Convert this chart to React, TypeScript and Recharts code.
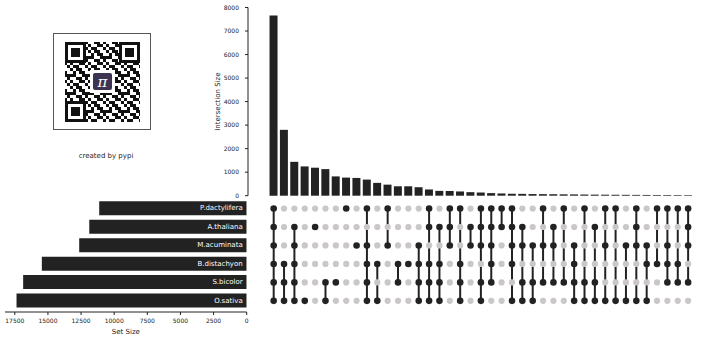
import React from "react";
import {
  BarChart,
  Bar,
  XAxis,
  YAxis,
  ScatterChart,
  Scatter,
  ReferenceLine,
  LabelList,
} from "recharts";

// ---------------------------------------------------------------------------
// Data
// ---------------------------------------------------------------------------

const setNames = ["P.dactylifera", "A.thaliana", "M.acuminata", "B.distachyon", "S.bicolor", "O.sativa"];
const setSizes = [11130, 11880, 12640, 15460, 16870, 17370];

const intersectionSizes = [
  7660, 2800, 1440, 1245, 1190, 1130, 820, 770, 755, 685,
  545, 470, 400, 400, 360, 265, 205, 200, 180, 150,
  135, 110, 95, 82, 78, 70, 66, 62, 58, 55,
  50, 46, 43, 40, 37, 35, 33, 31, 29, 27, 25,
];

// row indices into setNames
const intersectionMembers: number[][] = [
  [0, 1, 2, 3, 4, 5], [3, 4, 5], [1, 2, 3, 4, 5], [5], [1], [4, 5], [4], [0], [2], [0, 2, 3, 4, 5],
  [3, 5], [0, 2], [3, 4], [3], [2, 3, 4, 5], [0, 1, 3, 4, 5], [1, 3, 4, 5], [0, 1, 2], [0, 3, 4, 5], [1, 2],
  [0, 1, 2, 4, 5], [0, 1, 2, 3, 4], [0, 1], [0, 1, 2, 3, 5], [1, 2, 4, 5], [2, 4, 5], [0, 2, 4], [1, 2, 4], [0, 4], [2, 3, 4, 5],
  [0, 4, 5], [1, 4, 5], [0, 2, 5], [0, 5], [2, 5], [0, 1, 2, 5], [2, 3, 5], [0, 3], [0, 2, 3, 4], [0, 3, 4], [0, 1, 2, 4],
];

const intersectionTicks = [0, 1000, 2000, 3000, 4000, 5000, 6000, 7000, 8000];
const setSizeTicks = [0, 2500, 5000, 7500, 10000, 12500, 15000, 17500];

// ---------------------------------------------------------------------------
// Derived tables
// ---------------------------------------------------------------------------

const barData = intersectionSizes.map((size, i) => ({ id: i, size }));
const setData = setNames.map((name, i) => ({ name, size: setSizes[i] }));

const onDots: { col: number; row: number }[] = [];
const offDots: { col: number; row: number }[] = [];
intersectionMembers.forEach((members, col) => {
  setNames.forEach((_, row) => {
    (members.includes(row) ? onDots : offDots).push({ col, row });
  });
});

const FONT = "'DejaVu Sans', sans-serif";
const INK = "#222222";
const OFF = "#cbc7c8";
const W = 720;
const H = 352;

const tickStyle = { fontSize: 6, fill: "#222", fontFamily: FONT };

// ---------------------------------------------------------------------------
// QR badge (decoration)
// ---------------------------------------------------------------------------

const qrTile = ["101100", "010110", "110011", "001101", "100110", "011001"];

function Finder({ x, y }: { x: number; y: number }) {
  return (
    <g>
      <rect x={x} y={y} width={21} height={21} fill="#111" />
      <rect x={x + 3} y={y + 3} width={15} height={15} fill="#fff" />
      <rect x={x + 6} y={y + 6} width={9} height={9} fill="#111" />
    </g>
  );
}

function QrBadge() {
  return (
    <svg width={100} height={140} style={{ position: "absolute", left: 52, top: 32 }}>
      <defs>
        <pattern id="qr" width={18} height={18} patternUnits="userSpaceOnUse">
          {qrTile.map((rowBits, r) =>
            rowBits.split("").map((b, c) =>
              b === "1" ? <rect key={`${r}-${c}`} x={c * 3} y={r * 3} width={3} height={3} fill="#111" /> : null
            )
          )}
        </pattern>
      </defs>
      <rect x={1.5} y={1.5} width={97} height={96} fill="#fff" stroke="#555" strokeWidth={1} />
      <rect x={13} y={10} width={75} height={80} fill="url(#qr)" />
      <Finder x={13} y={10} />
      <Finder x={67} y={10} />
      <Finder x={13} y={69} />
      <rect x={38} y={38} width={25} height={23} fill="#fff" />
      <rect x={41} y={41} width={19} height={17} rx={2} fill="#3d3451" />
      <text x={50.5} y={55} textAnchor="middle" fontSize={15} fontStyle="italic" fontFamily="'DejaVu Serif', serif" fill="#fff">
        π
      </text>
      <text x={54} y={126} textAnchor="middle" fontSize={7} fontFamily={FONT} fill="#222">
        created by pypi
      </text>
    </svg>
  );
}

// ---------------------------------------------------------------------------
// App
// ---------------------------------------------------------------------------

export default function App() {
  return (
    <div style={{ position: "relative", width: W, height: H, background: "#fff", fontFamily: FONT }}>
      <style>{"body{margin:0}"}</style>

      <QrBadge />

      {/* intersection sizes */}
      <div style={{ position: "absolute", left: 0, top: 0 }}>
        <BarChart width={W} height={H} data={barData} margin={{ top: 7.5, right: 26.7, bottom: 156.3, left: 208 }} barCategoryGap="10%">
          <XAxis dataKey="id" type="category" hide padding={{ left: 20.5, right: 0 }} />
          <YAxis
            width={40}
            domain={[0, 8000]}
            ticks={intersectionTicks}
            tick={tickStyle}
            tickSize={3}
            tickMargin={6}
            stroke="#222"
            label={({ viewBox }: any) => (
              <text
                x={viewBox.x + 10}
                y={viewBox.y + viewBox.height / 2}
                transform={`rotate(-90, ${viewBox.x + 10}, ${viewBox.y + viewBox.height / 2})`}
                textAnchor="middle"
                dominantBaseline="central"
                fontSize={7}
                fontFamily={FONT}
                fill="#222"
              >
                Intersection Size
              </text>
            )}
          />
          <Bar dataKey="size" fill={INK} isAnimationActive={false} />
        </BarChart>
      </div>

      {/* membership matrix */}
      <div style={{ position: "absolute", left: 0, top: 0 }}>
        <ScatterChart width={W} height={H} margin={{ top: 199.3, right: 26.7, bottom: 41.9, left: 268.5 }}>
          <XAxis dataKey="col" type="number" domain={[-0.5, 40.5]} hide />
          <YAxis dataKey="row" type="number" domain={[-0.5, 5.5]} reversed hide />
          <Scatter
            data={offDots}
            isAnimationActive={false}
            shape={(p: any) => <circle cx={p.cx} cy={p.cy} r={3.1} fill={OFF} />}
          />
          {intersectionMembers.map((m, col) =>
            m.length > 1 ? (
              <ReferenceLine
                key={col}
                segment={[
                  { x: col, y: Math.min(...m) },
                  { x: col, y: Math.max(...m) },
                ]}
                stroke={INK}
                strokeWidth={2}
                ifOverflow="visible"
              />
            ) : null
          )}
          <Scatter
            data={onDots}
            isAnimationActive={false}
            shape={(p: any) => <circle cx={p.cx} cy={p.cy} r={3.3} fill={INK} />}
          />
        </ScatterChart>
      </div>

      {/* set sizes */}
      <div style={{ position: "absolute", left: 0, top: 0 }}>
        <BarChart width={W} height={H} data={setData} layout="vertical" margin={{ top: 199.3, right: 473.3, bottom: 10, left: 5 }}>
          <XAxis
            type="number"
            domain={[0, 18240]}
            reversed
            allowDataOverflow
            ticks={setSizeTicks}
            tick={tickStyle}
            tickSize={3}
            tickMargin={4}
            stroke="#222"
            height={30}
            label={{ value: "Set Size", position: "insideBottom", offset: 8, fontSize: 7, fill: "#222", fontFamily: FONT }}
          />
          <YAxis type="category" dataKey="name" hide padding={{ top: 0, bottom: 2 }} />
          <Bar dataKey="size" fill={INK} barSize={14} isAnimationActive={false}>
            <LabelList
              dataKey="name"
              content={(p: any) => {
                const right = Math.max(p.x, p.x + p.width) - 4;
                return (
                  <text x={right} y={p.y + p.height / 2} textAnchor="end" dominantBaseline="central" fontSize={7} fontFamily={FONT} fill="#fff">
                    {p.value}
                  </text>
                );
              }}
            />
          </Bar>
        </BarChart>
      </div>
    </div>
  );
}
